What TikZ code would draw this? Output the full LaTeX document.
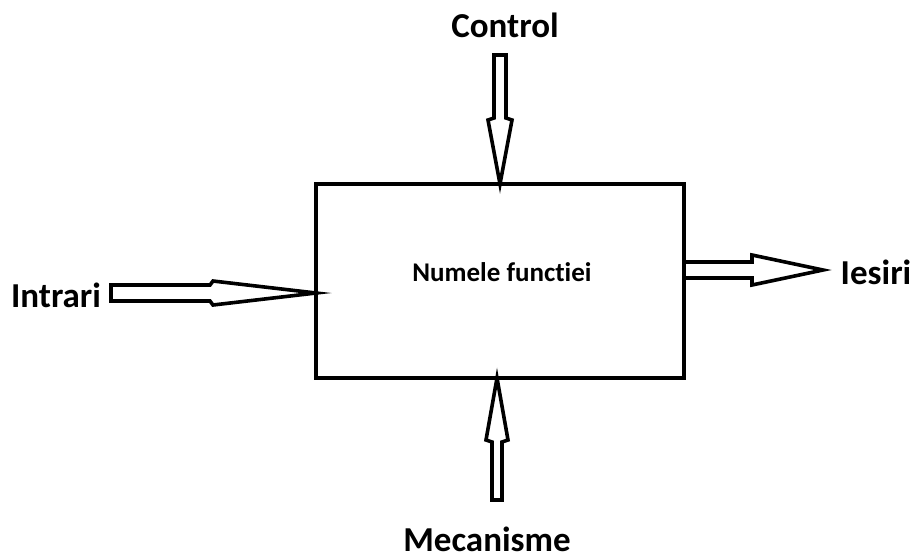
\documentclass[tikz,border=0pt]{standalone}
\usepackage{fontspec}
\setmainfont[Ligatures=NoCommon]{Carlito}
\begin{document}
\begin{tikzpicture}[x=1pt,y=-1pt,
  hollow/.style={draw=black,fill=white,line width=3.6pt,line join=miter},
  lbl/.style={font=\fontsize{35}{38}\selectfont\bfseries,anchor=base,inner sep=0pt},
  fname/.style={font=\fontsize{27}{30}\selectfont\bfseries,anchor=base,inner sep=0pt}]
\useasboundingbox (0,0) rectangle (917,558);
% function box
\node[draw=black,line width=3.6pt,minimum width=368pt,minimum height=194pt,inner sep=0pt] (fn) at (500,281) {};
\node[fname] (fnlabel) at (502,281) {Numele functiei};
% arrow tips on the box edges
\coordinate (tipT) at (500,184);
\coordinate (tipB) at (497,378);
\coordinate (tipL) at (316,293);
\coordinate (tipR) at (823,270);
% control (top)
\draw[hollow] (494,55) -- (506,55) -- (506,118) -- (512,120) -- (tipT) -- (488,120) -- (494,118) -- cycle;
% mechanisms (bottom)
\draw[hollow] (492,500) -- (502,500) -- (502,442) -- (508,440) -- (tipB) -- (486,440) -- (492,442) -- cycle;
% inputs (left)
\draw[hollow] (111,285) -- (111,301) -- (210,301) -- (213,305) -- (tipL) -- (213,281) -- (210,285) -- cycle;
% outputs (right)
\draw[hollow] (684,262) -- (684,278) -- (752,278) -- (752,285) -- (tipR) -- (752,255) -- (752,262) -- cycle;
% labels
\node[lbl] (control) at (505,37) {Control};
\node[lbl] (intrari) at (56,307) {Intrari};
\node[lbl] (iesiri) at (876,284) {Iesiri};
\node[lbl] (mecanisme) at (487,551) {Mecanisme};
\end{tikzpicture}
\end{document}
